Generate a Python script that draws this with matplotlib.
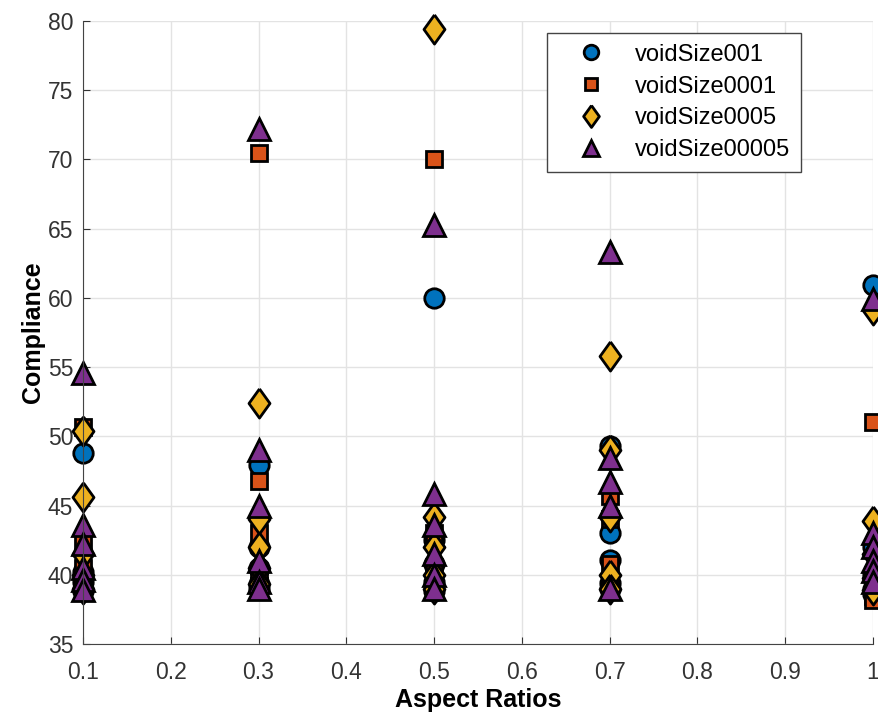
import matplotlib.pyplot as plt

plt.rcParams['font.family'] = ['Liberation Sans', 'DejaVu Sans']

# aspect ratios on the x axis
aspect = [0.1, 0.3, 0.5, 0.7, 1.0]

# compliance values for each void size, one list per aspect ratio
void001 = [[48.8, 40.2, 39.5, 39.0, 38.8],
           [47.9, 42.0, 40.5, 39.3, 39.0],
           [60.0, 42.5, 40.8, 39.5, 38.8],
           [49.3, 43.0, 41.1, 39.4, 39.0],
           [60.9, 42.0, 40.0, 39.0, 38.6]]
void0001 = [[50.7, 42.5, 40.5, 39.3, 38.8],
            [70.5, 46.8, 43.0, 40.2, 39.2],
            [70.0, 43.0, 40.5, 39.4, 38.9],
            [45.7, 44.0, 40.8, 39.2, 38.9],
            [51.0, 40.0, 39.0, 38.5, 38.2]]
void0005 = [[50.4, 45.6, 41.5, 40.0, 39.0],
            [52.4, 44.0, 42.0, 40.5, 39.3],
            [79.4, 44.2, 42.0, 40.0, 39.0],
            [55.8, 49.0, 44.2, 40.0, 39.0],
            [59.1, 43.9, 41.5, 39.8, 38.9]]
void00005 = [[54.6, 43.6, 42.2, 40.5, 39.6, 38.9],
             [72.2, 49.0, 45.0, 41.0, 39.5, 39.0],
             [65.3, 45.8, 43.6, 41.5, 40.0, 39.0],
             [63.3, 48.4, 46.7, 45.0, 39.0],
             [59.9, 43.0, 42.0, 41.0, 40.3, 39.5]]

names = ['voidSize001', 'voidSize0001', 'voidSize0005', 'voidSize00005']
series = [void001, void0001, void0005, void00005]
colors = ['#0072BD', '#D95319', '#EDB120', '#7E2F8E']
# matlab style diamond (wider than matplotlib's thin one)
diamond = [(0, 1), (0.72, 0), (0, -1), (-0.72, 0), (0, 1)]
markers = ['o', 's', diamond, '^']
msizes = [14, 12, 21, 16]

fig = plt.figure(figsize=(8.79, 7.18), dpi=100)
ax = fig.add_axes([83/879, 74/718, 790/879, 623/718])

for name, data, c, m, ms in zip(names, series, colors, markers, msizes):
    xs, ys = [], []
    for x, vals in zip(aspect, data):
        xs += [x]*len(vals)
        ys += vals
    ax.plot(xs, ys, linestyle='none', marker=m, markersize=ms, markerfacecolor=c,
            markeredgecolor='black', markeredgewidth=2.0, label=name, clip_on=False)

ax.set_xlim(0.1, 1)
ax.set_ylim(35, 80)
ax.set_xticks([0.1, 0.2, 0.3, 0.4, 0.5, 0.6, 0.7, 0.8, 0.9, 1.0])
ax.set_xticklabels(['0.1', '0.2', '0.3', '0.4', '0.5', '0.6', '0.7', '0.8', '0.9', '1'])
ax.set_yticks(range(35, 81, 5))
ax.grid(True, color='#e3e3e3', linewidth=1)
ax.set_axisbelow(True)
ax.tick_params(labelsize=16.5, colors='#333333', direction='in', length=5)
ax.tick_params(axis='x', pad=12)
ax.tick_params(axis='y', pad=7)
ax.spines['top'].set_visible(False)
ax.spines['right'].set_visible(False)
ax.spines['left'].set_color('#444444')
ax.spines['bottom'].set_color('#444444')

ax.set_xlabel('Aspect Ratios', fontsize=18, fontweight='bold', labelpad=3)
ax.set_ylabel('Compliance', fontsize=18, fontweight='bold', labelpad=2)

leg = ax.legend(loc='upper right', bbox_to_anchor=(801/879, 1 - 33/718),
                bbox_transform=fig.transFigure, borderaxespad=0, fontsize=17,
                fancybox=False, edgecolor='#444444', framealpha=1,
                handlelength=2.9, handletextpad=0.4, borderpad=0.45,
                labelspacing=0.42, markerscale=0.75)
leg.get_frame().set_linewidth(1.0)

fig.savefig('out.png', dpi=100)
